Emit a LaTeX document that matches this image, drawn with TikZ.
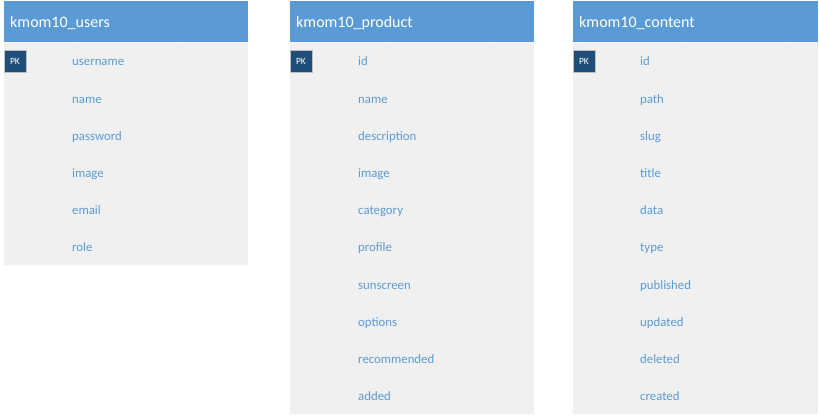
\documentclass[tikz,border=0pt]{standalone}
\usepackage{fontspec}
\setmainfont{Carlito}
\usetikzlibrary{positioning}
\definecolor{hdrblue}{HTML}{5B9BD5}
\definecolor{pkblue}{HTML}{1F4E79}
\definecolor{bodygray}{HTML}{F0F0F0}
\definecolor{fieldblue}{HTML}{5B9BD5}

\begin{document}
\begin{tikzpicture}[
    x=1pt, y=-1pt,
    tablebody/.style={fill=bodygray},
    tablehead/.style={fill=hdrblue},
    title/.style={anchor=west, text=white, font=\fontsize{16}{16}\selectfont, inner sep=0pt,
      text height=11pt, text depth=3pt},
    pk/.style={fill=pkblue, draw=black!25, line width=0.4pt, text=white, font=\fontsize{9.5}{9.5}\selectfont,
      minimum width=22pt, minimum height=22pt, inner sep=0pt},
    field/.style={anchor=west, text=fieldblue, font=\fontsize{12.8}{13}\selectfont, inner sep=0pt,
      text height=9pt, text depth=2.5pt}
  ]
    \useasboundingbox (0,0) rectangle (819,416);
    % kmom10_users
    \begin{scope}[shift={(4,0)}]
      \fill[tablebody] (0,42) rectangle (244,265);
      \fill[tablehead] (0,1) rectangle (244,42);
      \draw[white, dotted, line width=0.6pt] (0,42) -- (244,42);
      \node[title] (users) at (6,23.5) {kmom10\_users};
      \node[pk] (userspk) at (11,61) {PK};
      \node[field] (uusername) at (68,62)  {username};
      \node[field] (uname)     at (68,100) {name};
      \node[field] (upassword) at (68,137) {password};
      \node[field] (uimage)    at (68,174) {image};
      \node[field] (uemail)    at (68,211) {email};
      \node[field] (urole)     at (68,248) {role};
    \end{scope}
    % kmom10_product
    \begin{scope}[shift={(290,0)}]
      \fill[tablebody] (0,42) rectangle (244,414);
      \fill[tablehead] (0,1) rectangle (244,42);
      \draw[white, dotted, line width=0.6pt] (0,42) -- (244,42);
      \node[title] (product) at (6,23.5) {kmom10\_product};
      \node[pk] (productpk) at (11,61) {PK};
      \node[field] (pid)          at (68,62)  {id};
      \node[field] (pname)        at (68,100) {name};
      \node[field] (pdescription) at (68,137) {description};
      \node[field] (pimage)       at (68,174) {image};
      \node[field] (pcategory)    at (68,211) {category};
      \node[field] (pprofile)     at (68,248) {profile};
      \node[field] (psunscreen)   at (68,286) {sunscreen};
      \node[field] (poptions)     at (68,323) {options};
      \node[field] (precommended) at (68,360) {recommended};
      \node[field] (padded)       at (68,397) {added};
    \end{scope}
    % kmom10_content
    \begin{scope}[shift={(573,0)}]
      \fill[tablebody] (0,42) rectangle (245,414);
      \fill[tablehead] (0,1) rectangle (245,42);
      \draw[white, dotted, line width=0.6pt] (0,42) -- (245,42);
      \node[title] (content) at (6,23.5) {kmom10\_content};
      \node[pk] (contentpk) at (11,61) {PK};
      \node[field] (cid)        at (67,62)  {id};
      \node[field] (cpath)      at (67,100) {path};
      \node[field] (cslug)      at (67,137) {slug};
      \node[field] (ctitle)     at (67,174) {title};
      \node[field] (cdata)      at (67,211) {data};
      \node[field] (ctype)      at (67,248) {type};
      \node[field] (cpublished) at (67,286) {published};
      \node[field] (cupdated)   at (67,323) {updated};
      \node[field] (cdeleted)   at (67,360) {deleted};
      \node[field] (ccreated)   at (67,397) {created};
    \end{scope}
\end{tikzpicture}
\end{document}
